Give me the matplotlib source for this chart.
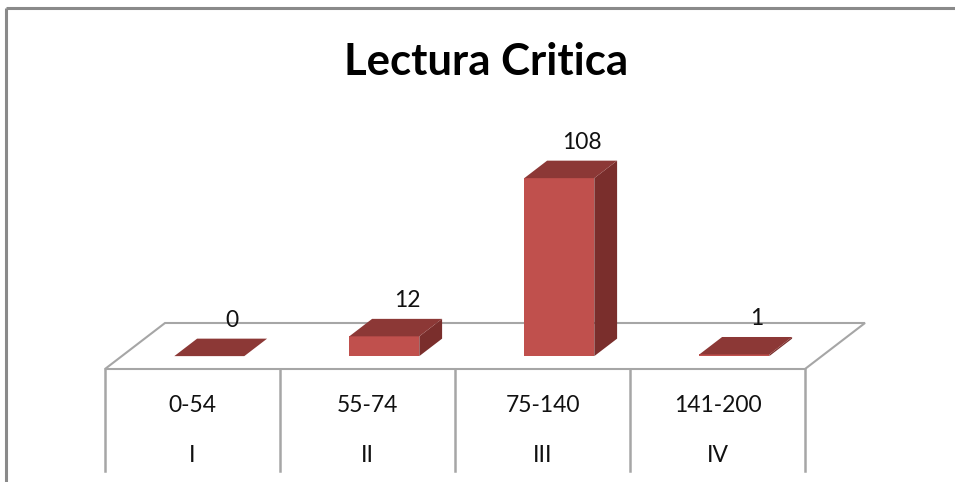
import matplotlib
matplotlib.use('Agg')
from matplotlib import pyplot
from matplotlib.patches import Polygon

title = 'Lectura Critica'
ranges = ['0-54', '55-74', '75-140', '141-200']
levels = ['I', 'II', 'III', 'IV']
counts = [0, 12, 108, 1]

# layout, in pixels of the 955x482 picture
W, H = 955, 482
x0 = 105          # front left corner of the floor
cat_w = 175       # width of one category
floor_y = 369     # front edge of the floor
ddx, ddy = 60, -46  # depth offset of the floor
unit = 1.648      # pixels per count
bar_w = 70
d0, d1 = 0.28, 0.66  # bar depth span inside the floor

front = '#C0504D'
top = '#8C3836'
side = '#7A2E2C'
edge = '#A6A6A6'


def pt(x, v, d):
    # x along floor, value up, d depth 0..1
    return (x + d * ddx, floor_y - v * unit + d * ddy)


def main():
    fig = pyplot.figure(figsize=(W / 100, H / 100), dpi=100)
    ax = fig.add_axes([0, 0, 1, 1])
    ax.set_xlim(0, W)
    ax.set_ylim(H, 0)
    ax.axis('off')

    font = ['Lato', 'DejaVu Sans']

    # outer frame (top and left only visible)
    ax.plot([6, W], [8, 8], color='#8A8A8A', lw=2.2, solid_capstyle='butt')
    ax.plot([6, 6], [8, H], color='#8A8A8A', lw=2.2, solid_capstyle='butt')

    ax.text(486, 62, title, ha='center', va='center', fontsize=31.5,
            fontweight='bold', family=font)

    n = len(counts)
    x_end = x0 + n * cat_w
    floor = [pt(x0, 0, 0), pt(x_end, 0, 0), pt(x_end, 0, 1), pt(x0, 0, 1)]
    ax.add_patch(Polygon(floor, closed=True, facecolor='white',
                         edgecolor=edge, lw=1.5, zorder=1))

    # table below the floor
    for i in range(n + 1):
        xx = x0 + i * cat_w
        ax.plot([xx, xx], [floor_y, 471], color=edge, lw=1.8, zorder=1)
    for i, (r, l) in enumerate(zip(ranges, levels)):
        cx = x0 + (i + 0.5) * cat_w
        ax.text(cx, 405, r, ha='center', va='center', fontsize=16.5, family=font, color='#111111')
        ax.text(cx, 455, l, ha='center', va='center', fontsize=16.5, family=font, color='#111111')

    for i, v in enumerate(counts):
        xl = x0 + i * cat_w + (cat_w - bar_w) / 2
        xr = xl + bar_w
        fr = [pt(xl, 0, d0), pt(xr, 0, d0), pt(xr, v, d0), pt(xl, v, d0)]
        tp = [pt(xl, v, d0), pt(xr, v, d0), pt(xr, v, d1), pt(xl, v, d1)]
        sd = [pt(xr, 0, d0), pt(xr, 0, d1), pt(xr, v, d1), pt(xr, v, d0)]
        if v > 0:
            ax.add_patch(Polygon(fr, closed=True, facecolor=front, edgecolor='none', zorder=3))
            ax.add_patch(Polygon(sd, closed=True, facecolor=side, edgecolor='none', zorder=3))
        ax.add_patch(Polygon(tp, closed=True, facecolor=top, edgecolor='none', zorder=3))
        lx, ly = pt((xl + xr) / 2, v, d1)
        ax.text(lx, ly - 18, str(v), ha='center', va='center', fontsize=16.5,
                family=font, color='#111111', zorder=4)

    fig.savefig('out.png', dpi=100, facecolor='white')
    pyplot.close(fig)


if __name__ == '__main__':
    main()
